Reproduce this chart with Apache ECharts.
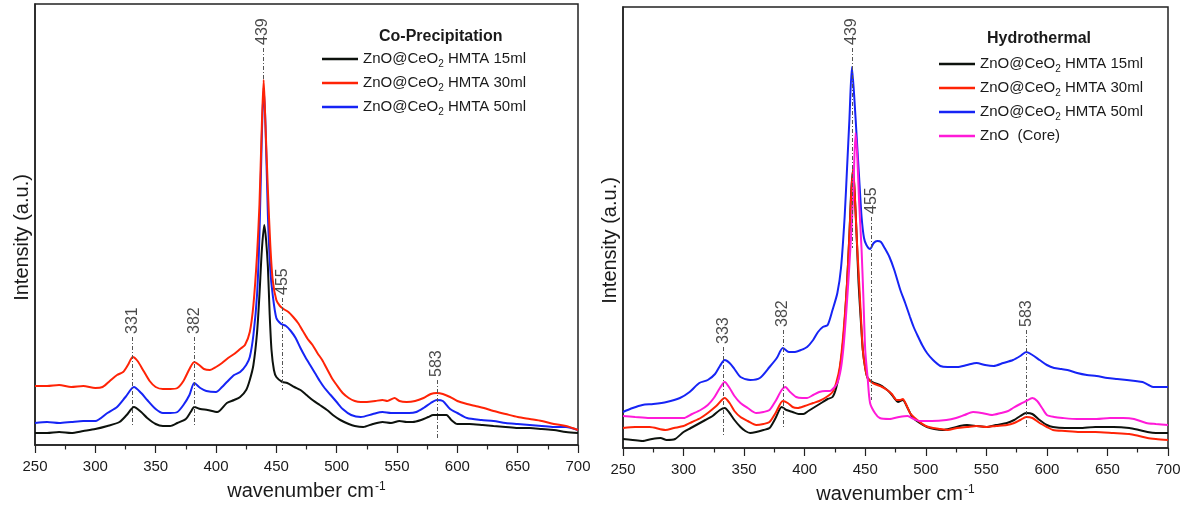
<!DOCTYPE html>
<html>
<head>
<meta charset="utf-8">
<script src="https://cdn.jsdelivr.net/npm/echarts@6/dist/echarts.min.js"></script>
<style>
  html, body { margin: 0; padding: 0; background: #fff; }
  #chart { width: 1187px; height: 505px; }
</style>
</head>
<body>
<div id="chart"></div>
<script>
// ---- Raman spectra, Co-Precipitation series (wavenumber cm-1 / intensity a.u.) ----
const cp15X = [250,260,270,280,290,300,310,320,326,332,338,343,350,356,362,368,375,379,382,387,393,401,409,415,420,425,428,431,434,436,438,440,441.5,443,444.5,446,448,450,455,459,465,470,475,480,486,492,498,503,510,515,522,530,538,545,552,558,563,570,576,580,586,591,595,600,610,621,630,640,650,660,670,680,690,700];
const cp15Y = [12,12,13,12,14,16,19,23,30,38,33,27,21,19,19,22,26,33,38,36,35,33,42,45,48,55,65,80,112,150,195,220,205,178,130,95,75,68,63,62,58,55,50,45,40,35,29,25,21,19,18,21,23,22,24,23,23,25,28,30,30,30,25,21,21,20,19,18,17,17,16,15,13,12];

const cp30X = [250,260,270,280,290,300,306,312,318,323,327,331,335,340,345,350,356,362,368,373,378,382,386,390,395,400,405,410,415,420,424,428,431,434,436,438,439.5,441,443,445,447,450,453,456,460,464,468,472,476,480,484,488,492,496,500,505,510,515,520,525,532,538,542,548,552,558,565,572,578,583,588,594,600,608,615,622,630,640,650,660,670,680,690,700];
const cp30Y = [59,59,60,58,59,57,58,64,70,73,80,88,84,74,64,58,56,56,57,64,76,83,80,76,75,78,82,87,91,96,100,113,140,190,240,320,365,320,255,200,165,145,139,136,133,128,122,114,106,100,92,85,76,67,60,52,47,44,43,43,44,45,44,47,44,43,44,47,51,52,51,48,44,41,39,37,34,31,28,26,24,21,19,15];

const cp50X = [250,260,270,280,290,300,310,318,325,332,338,343,350,356,362,368,373,378,382,387,392,400,405,409,415,420,425,428,431,434,436,438,439.5,441,443,445,447,450,454,458,462,466,470,474,478,482,486,490,495,500,505,512,520,530,538,545,552,560,566,572,578,583,588,594,600,608,620,630,640,650,660,670,680,690,700];
const cp50Y = [22,23,22,23,24,24,32,38,48,58,52,45,36,32,32,33,40,50,62,57,54,53,58,63,70,73,80,88,110,150,210,310,357,320,230,175,150,127,121,119,114,107,97,88,80,72,64,57,50,43,36,30,28,31,33,32,32,32,33,37,42,45,44,36,32,27,25,24,22,21,20,19,18,18,15];

// ---- Raman spectra, Hydrothermal series ----
const ht15X = [250,258,266,274,281,286,293,300,306,312,318,324,330,334,338,342,347,351,355,360,366,371,376,381,385,390,395,399,403,407,411,415,419,423,426,429,432,435,437,438.5,440,441.5,443,444.5,446.5,448,450,452,456,462,466,470,474,477,481,485,489,495,501,507,514,522,528,534,542,550,558,567,573,578,583,588,594,600,605,615,627,640,655,668,676,683,690,700];
const ht15Y = [9,8,7,9,10,8,9,16,20,24,28,32,38,40,35,28,21,17,15,16,18,20,30,41,38,36,34,34,37,40,43,46,49,51,60,78,110,165,215,258,278,250,210,165,125,98,80,70,66,63,60,56,50,46,48,40,31,25,21,19,18,20,22,23,22,21,23,25,28,32,35,34,28,23,21,20,20,21,21,20,18,16,15,15];

const ht30X = [250,260,272,285,292,300,307,314,320,327,334,338,342,347,353,360,366,371,376,382,386,390,394,400,407,412,418,423,426,429,432,435,437,438.5,440,441.5,443,445,446.5,448,450,452,456,460,464,468,472,476,479,481,484,487,491,495,500,506,512,518,526,534,542,550,558,567,573,578,583,588,594,600,605,615,627,640,655,668,676,683,690,700];
const ht30Y = [20,21,21,18,20,22,26,30,35,42,50,45,37,31,27,23,24,26,35,47,45,41,40,42,45,47,51,56,65,81,115,165,215,255,280,250,210,165,130,98,80,70,65,63,61,58,54,48,48,49,43,35,30,26,22,20,19,18,20,21,22,21,22,23,25,28,31,30,25,21,18,17,16,16,15,14,12,10,9,8];

const ht50X = [250,258,266,275,286,297,305,313,320,326,330,334,338,342,347,355,363,371,377,382,387,392,397,402,407,411,415,419,423,427,430,433,435,437,439,441,443,445,447,449,451,454,457,460,463,466,470,474,479,483,487,490,493,497,501,506,512,518,526,534,542,549,556,564,572,578,583,588,594,600,606,612,617,625,633,641,650,658,666,673,679,684,688,694,700];
const ht50Y = [36,40,43,44,46,50,56,65,68,74,82,88,85,79,71,68,70,81,90,100,96,96,98,101,108,116,121,123,138,155,180,231,280,330,381,350,310,270,231,210,203,199,205,207,206,200,191,178,158,145,131,121,113,103,95,88,82,81,81,83,85,83,82,85,88,92,96,93,88,83,80,79,78,75,73,72,70,69,68,67,66,63,61,61,61];

const znoX = [250,260,272,285,300,307,314,320,325,330,334,338,342,347,353,360,366,371,376,381,384,388,393,398,402,407,412,417,421,424,427,430,432,434,436,438,440,442,443.5,445,447,448.5,450,452,454,458,462,470,478,485,490,495,505,517,525,532,539,546,555,562,568,572,578,583,588,592,596,600,606,613,625,641,652,663,672,682,690,700];
const znoY = [32,31,30,30,30,34,38,43,50,60,66,60,52,45,40,35,36,38,47,58,61,56,51,50,50,53,56,57,57,60,65,80,100,130,165,205,250,315,290,245,198,150,98,70,45,35,30,29,31,32,29,27,27,28,30,33,36,35,33,35,37,40,44,47,50,47,40,33,31,30,29,29,30,30,29,25,24,23];

// ---- series names ----
const namesCP = ['ZnO@CeO2 HMTA 15ml', 'ZnO@CeO2 HMTA 30ml', 'ZnO@CeO2 HMTA 50ml'];
const namesHT = ['ZnO@CeO2 HMTA 15ml', 'ZnO@CeO2 HMTA 30ml', 'ZnO@CeO2 HMTA 50ml', 'ZnO  (Core)'];

// ---- marked peaks: position and the intensity span of the guide line ----
const peaksCP = [331, 382, 439, 455, 583];
const guideTopCP = [108, 108, 397, 147, 65];
const guideBottomCP = [18, 18, 365, 55, 7];

const peaksHT = [333, 382, 439, 455, 583];
const guideTopHT = [101, 118, 400, 231, 118];
const guideBottomHT = [13, 20, 200, 48, 21];

const xTicks = { min: 250, max: 700, interval: 50 };

const FONT = "'Liberation Sans', Arial, sans-serif";
const INK = '#1a1a1a';
const COLORS = { black: '#0d120d', red: '#ff2306', blue: '#1624f5', magenta: '#ff1ad8' };

const zip = (xs, ys) => xs.map((x, i) => [x, ys[i]]);

function spectrum(name, xs, ys, color, gi) {
  return {
    type: 'line', name, xAxisIndex: gi, yAxisIndex: gi,
    data: zip(xs, ys), symbol: 'none', smooth: 0.25,
    lineStyle: { color, width: 2 }, itemStyle: { color },
    emphasis: { disabled: true }, z: 3
  };
}

function peakMarks(peaks, tops, bottoms, gi) {
  return {
    type: 'scatter', xAxisIndex: gi, yAxisIndex: gi, silent: true,
    symbolSize: 0.1, itemStyle: { color: 'rgba(0,0,0,0)' }, z: 4,
    data: peaks.map((p, i) => [p, tops[i]]),
    label: {
      show: true, position: 'top', distance: 3, rotate: 90,
      align: 'left', verticalAlign: 'middle',
      formatter: p => String(p.value[0]),
      fontFamily: FONT, fontSize: 16, color: INK
    },
    markLine: {
      silent: true, symbol: ['none', 'none'], animation: false,
      label: { show: false },
      lineStyle: { color: '#555', width: 1, type: [4, 2, 1, 2] },
      data: peaks.map((p, i) => [{ coord: [p, tops[i]] }, { coord: [p, bottoms[i]] }])
    }
  };
}

function xAxisCfg(gi) {
  return {
    type: 'value', gridIndex: gi, min: xTicks.min, max: xTicks.max, interval: xTicks.interval,
    axisLine: { show: true, onZero: false, lineStyle: { color: '#222', width: 1.5 } },
    axisTick: { show: true, length: 8, lineStyle: { color: '#222', width: 1.2 } },
    minorTick: { show: true, splitNumber: 2, length: 4.5, lineStyle: { color: '#222', width: 1.2 } },
    splitLine: { show: false },
    axisLabel: { fontFamily: FONT, fontSize: 15, color: INK, margin: 14 },
    name: 'wavenumber cm{sup|-1}', nameLocation: 'middle', nameGap: 36,
    nameTextStyle: {
      fontFamily: FONT, fontSize: 20, color: INK,
      rich: { sup: { fontFamily: FONT, fontSize: 12, color: INK, verticalAlign: 'top', lineHeight: 8, padding: [0, 0, 10, 1] } }
    }
  };
}

function yAxisCfg(gi) {
  return {
    type: 'value', gridIndex: gi, min: 0, max: 441,
    axisLine: { show: true, lineStyle: { color: '#222', width: 1.5 } },
    axisTick: { show: false }, axisLabel: { show: false }, splitLine: { show: false },
    name: 'Intensity (a.u.)', nameLocation: 'middle', nameGap: 3,
    nameTextStyle: { fontFamily: FONT, fontSize: 20, color: INK, padding: [0, 26, 0, 0] }
  };
}

const legendRich = {
  fontFamily: FONT, fontSize: 15, color: INK, lineHeight: 20,
  rich: { sub: { fontFamily: FONT, fontSize: 10, color: INK, verticalAlign: 'bottom', lineHeight: 6 } }
};
const legendFmt = n => n.replace('CeO2', 'CeO{sub|2}');

const option = {
  animation: false,
  backgroundColor: '#fff',
  title: [
    { text: 'Co-Precipitation', left: 379, top: 29, padding: 0,
      textStyle: { fontFamily: FONT, fontSize: 16, fontWeight: 'bold', color: INK } },
    { text: 'Hydrothermal', left: 987, top: 31, padding: 0,
      textStyle: { fontFamily: FONT, fontSize: 16, fontWeight: 'bold', color: INK } }
  ],
  grid: [
    { left: 35, top: 4, width: 543, height: 441, outerBoundsMode: 'none',
      show: true, borderColor: '#222', borderWidth: 1.5 },
    { left: 623, top: 7, width: 545, height: 441, outerBoundsMode: 'none',
      show: true, borderColor: '#222', borderWidth: 1.5 }
  ],
  xAxis: [xAxisCfg(0), xAxisCfg(1)],
  yAxis: [yAxisCfg(0), yAxisCfg(1)],
  legend: [
    { data: namesCP, orient: 'vertical', left: 322, top: 49, padding: 0,
      icon: 'rect', itemWidth: 36, itemHeight: 2.5, itemGap: 4, selectedMode: false,
      textStyle: legendRich, formatter: legendFmt },
    { data: namesHT, orient: 'vertical', left: 939, top: 54, padding: 0,
      icon: 'rect', itemWidth: 36, itemHeight: 2.5, itemGap: 4, selectedMode: false,
      textStyle: legendRich, formatter: legendFmt }
  ],
  series: [
    spectrum(namesCP[0], cp15X, cp15Y, COLORS.black, 0),
    spectrum(namesCP[2], cp50X, cp50Y, COLORS.blue, 0),
    spectrum(namesCP[1], cp30X, cp30Y, COLORS.red, 0),
    peakMarks(peaksCP, guideTopCP, guideBottomCP, 0),

    spectrum(namesHT[0], ht15X, ht15Y, COLORS.black, 1),
    spectrum(namesHT[1], ht30X, ht30Y, COLORS.red, 1),
    spectrum(namesHT[2], ht50X, ht50Y, COLORS.blue, 1),
    spectrum(namesHT[3], znoX, znoY, COLORS.magenta, 1),
    peakMarks(peaksHT, guideTopHT, guideBottomHT, 1)
  ]
};

echarts.init(document.getElementById('chart'), null, { renderer: 'canvas' }).setOption(option);
</script>
</body>
</html>
